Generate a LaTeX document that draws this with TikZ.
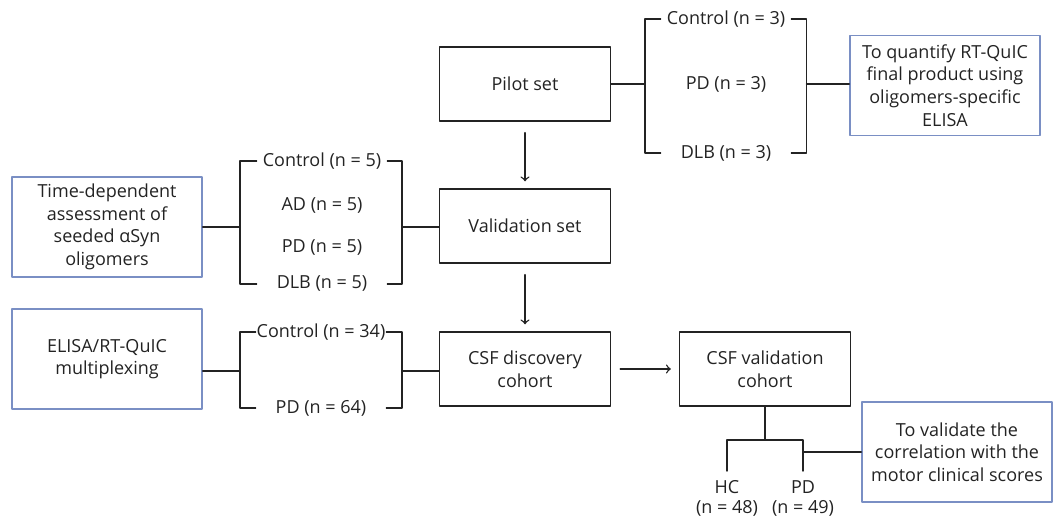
\documentclass[tikz,border=0pt]{standalone}
\usepackage{fontspec}
\setmainfont{Open Sans}
\definecolor{noteblue}{RGB}{122,143,196}
\definecolor{ink}{RGB}{35,35,35}
\tikzset{
  box/.style={draw=ink,line width=0.7pt,minimum width=85.5pt,minimum height=37pt,align=center,inner sep=1pt},
  note/.style={draw=noteblue,line width=0.7pt,minimum width=95pt,minimum height=50pt,align=center,inner sep=1pt},
  grp/.style={minimum width=65pt,inner sep=0pt},
  leaf/.style={align=center,inner xsep=0pt,inner ysep=4.5pt,font=\fontsize{9}{10}\selectfont},
  wire/.style={draw=ink,line width=0.7pt}
}
\begin{document}
\begin{tikzpicture}[x=0.5pt,y=-0.5pt,line cap=round,line join=round,>=to,
  every node/.style={font=\fontsize{9}{11.3}\selectfont,text=ink}]
  \useasboundingbox (0,0) rectangle (1059,528);
  \node[box] (pilot) at (525,84) {Pilot set};
  \node[box] (valid) at (525,226) {Validation set};
  \node[box] (disc) at (525,369) {CSF discovery\\cohort};
  \node[box] (cval) at (765,369) {CSF validation\\cohort};
  \node[note] (quant) at (945,85.5) {To quantify RT-QuIC\\final product using\\oligomers-specific\\ELISA};
  \node[note] (timedep) at (107,227) {Time-dependent\\assessment of\\seeded αSyn\\oligomers};
  \node[note] (multi) at (107,359) {ELISA/RT-QuIC\\multiplexing};
  \node[note] (motor) at (957,452) {To validate the\\correlation with the\\motor clinical scores};
  \node[grp] (pc) at (726,19) {Control (n = 3)};
  \node[grp] (ppd) at (726,84) {PD (n = 3)};
  \node[grp] (pdlb) at (726,153) {DLB (n = 3)};
  \node[grp] (vc) at (322,161) {Control (n = 5)};
  \node[grp] (vad) at (322,205) {AD (n = 5)};
  \node[grp] (vpd) at (322,248) {PD (n = 5)};
  \node[grp] (vdlb) at (322,284) {DLB (n = 5)};
  \node[grp] (dc) at (321,332) {Control (n = 34)};
  \node[grp] (dpd) at (321,408) {PD (n = 64)};
  \node[leaf,anchor=north] (hc) at (727,471) {HC\\(n = 48)};
  \node[leaf,anchor=north] (cpd) at (803,471) {PD\\(n = 49)};
  \coordinate (pl) at (645,84);
  \coordinate (pr) at (806.5,84);
  \coordinate (vl) at (240,227);
  \coordinate (vr) at (402,227);
  \coordinate (dl) at (240,371);
  \coordinate (dr) at (402,371);
  \coordinate (tj) at (765,440);
  \draw[wire] (pilot.east) -- (pl);
  \draw[wire] (pc.west) -| (pl) |- (pdlb.west);
  \draw[wire] (pc.east) -| (pr) |- (pdlb.east);
  \draw[wire] (pr) -- (pr -| quant.west);
  \draw[wire] (vl -| timedep.east) -- (vl);
  \draw[wire] (vc.west) -| (vl) |- (vdlb.west);
  \draw[wire] (vc.east) -| (vr) |- (vdlb.east);
  \draw[wire] (vr) -- (vr -| valid.west);
  \draw[wire] (dl -| multi.east) -- (dl);
  \draw[wire] (dc.west) -| (dl) |- (dpd.west);
  \draw[wire] (dc.east) -| (dr) |- (dpd.east);
  \draw[wire] (dr) -- (dr -| disc.west);
  \draw[wire,->,shorten <=5.5pt,shorten >=3.5pt] (pilot) -- (valid);
  \draw[wire,->,shorten <=5.5pt,shorten >=3.5pt] (valid) -- (disc);
  \draw[wire,->,shorten <=4.5pt,shorten >=4pt] (disc) -- (cval);
  \draw[wire] (cval.south) -- (tj);
  \draw[wire] (tj) -| (hc.north);
  \draw[wire] (tj) -| (cpd.north);
  \draw[wire] (cpd.north |- motor.west) -- (motor.west);
\end{tikzpicture}
\end{document}
